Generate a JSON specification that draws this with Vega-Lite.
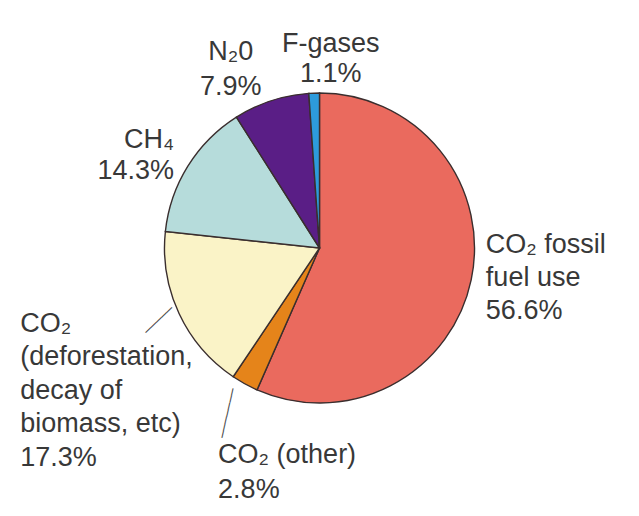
{
  "$schema": "https://vega.github.io/schema/vega-lite/v6.json",
  "width": 639,
  "height": 496,
  "autosize": "none",
  "padding": {"left": 0, "top": 0, "right": 0, "bottom": 20},
  "background": "white",
  "config": {"view": {"stroke": null}},
  "data": {
    "values": [
      {"key": "fossil", "value": 56.6, "seq": 1, "label": "CO₂ fossil\nfuel use\n56.6%"},
      {"key": "other", "value": 2.8, "seq": 2, "label": "CO₂ (other)\n2.8%"},
      {"key": "deforestation", "value": 17.3, "seq": 3, "label": "CO₂\n(deforestation,\ndecay of\nbiomass, etc)\n17.3%"},
      {"key": "ch4", "value": 14.3, "seq": 4, "label": "CH₄\n14.3%"},
      {"key": "n2o", "value": 7.9, "seq": 5, "label": "N₂0\n7.9%"},
      {"key": "fgases", "value": 1.1, "seq": 6, "label": "F-gases\n1.1%"}
    ]
  },
  "encoding": {
    "theta": {"field": "value", "type": "quantitative", "stack": true},
    "order": {"field": "seq", "type": "quantitative"}
  },
  "layer": [
    {
      "mark": {"type": "arc", "outerRadius": 155, "stroke": "#3a2e2e", "strokeWidth": 1.4},
      "encoding": {
        "color": {
          "field": "key", "type": "nominal", "legend": null,
          "scale": {
            "domain": ["fossil", "other", "deforestation", "ch4", "n2o", "fgases"],
            "range": ["#EA6A5E", "#E5841A", "#FAF3C7", "#B6DCDB", "#5A1E86", "#2D9BDC"]
          }
        }
      }
    },
    {
      "mark": {"type": "text", "radius": 170, "align": "left", "baseline": "alphabetic", "dx": 0, "dy": -30, "lineBreak": "\n", "lineHeight": 33, "font": "Liberation Sans", "fontSize": 27, "fill": "#383838"},
      "encoding": {"text": {"condition": {"test": "datum.key === 'fossil'", "field": "label"}, "value": ""}}
    },
    {
      "mark": {"type": "text", "radius": 225, "align": "left", "baseline": "alphabetic", "dx": 7, "dy": 18, "lineBreak": "\n", "lineHeight": 35, "font": "Liberation Sans", "fontSize": 27, "fill": "#383838"},
      "encoding": {"text": {"condition": {"test": "datum.key === 'other'", "field": "label"}, "value": ""}}
    },
    {
      "mark": {"type": "text", "radius": 200, "align": "left", "baseline": "alphabetic", "dx": -118, "dy": -1, "lineBreak": "\n", "lineHeight": 33.5, "font": "Liberation Sans", "fontSize": 27, "fill": "#383838"},
      "encoding": {"text": {"condition": {"test": "datum.key === 'deforestation'", "field": "label"}, "value": ""}}
    },
    {
      "mark": {"type": "text", "radius": 190, "align": "right", "baseline": "alphabetic", "dx": 16, "dy": 0, "lineBreak": "\n", "lineHeight": 31, "font": "Liberation Sans", "fontSize": 27, "fill": "#383838"},
      "encoding": {"text": {"condition": {"test": "datum.key === 'ch4'", "field": "label"}, "value": ""}}
    },
    {
      "mark": {"type": "text", "radius": 198, "align": "center", "baseline": "alphabetic", "dx": -27, "dy": 0, "lineBreak": "\n", "lineHeight": 35, "font": "Liberation Sans", "fontSize": 27, "fill": "#383838"},
      "encoding": {"text": {"condition": {"test": "datum.key === 'n2o'", "field": "label"}, "value": ""}}
    },
    {
      "mark": {"type": "text", "radius": 196, "align": "center", "baseline": "alphabetic", "dx": 18, "dy": 0, "lineBreak": "\n", "lineHeight": 30, "font": "Liberation Sans", "fontSize": 27, "fill": "#383838"},
      "encoding": {"text": {"condition": {"test": "datum.key === 'fgases'", "field": "label"}, "value": ""}}
    },
    {
      "mark": {"type": "text", "radius": 182.5, "align": "center", "baseline": "middle", "dx": 6, "dy": 3, "angle": 102.9, "font": "DejaVu Sans", "fontSize": 12, "fill": "#4a4a4a"},
      "encoding": {"text": {"condition": {"test": "datum.key === 'other'", "value": "───────"}, "value": ""}}
    },
    {
      "mark": {"type": "text", "radius": 172, "align": "center", "baseline": "middle", "dx": 3, "dy": 4, "angle": 136.2, "font": "DejaVu Sans", "fontSize": 12, "fill": "#4a4a4a"},
      "encoding": {"text": {"condition": {"test": "datum.key === 'deforestation'", "value": "─────"}, "value": ""}}
    }
  ]
}
